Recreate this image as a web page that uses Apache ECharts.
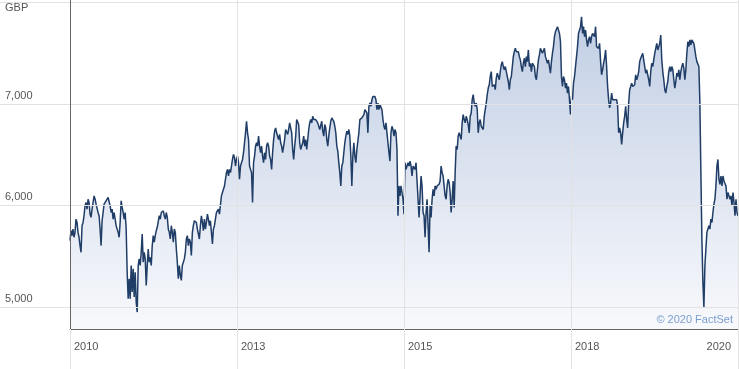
<!DOCTYPE html>
<html>
<head>
<meta charset="utf-8">
<script src="https://cdn.jsdelivr.net/npm/echarts@6/dist/echarts.min.js"></script>
<style>
  html, body { margin: 0; padding: 0; background: #fff; }
  #chart { width: 739px; height: 369px; }
</style>
</head>
<body>
<div id="chart"></div>
<script>
// Index level (GBP), sampled evenly from Oct 2010 to Oct 2020
const seg2010_2012 = [5654,5752,5703,5768,5687,5735,5866,5833,5735,5687,
  5605,5539,5801,5833,5899,5997,6029,5964,6062,6029,
  5915,5883,5964,6029,6095,6062,6013,5997,5931,5899,
  5768,5605,5850,5931,6013,5997,6046,6046,6079,6062,
  5997,5931,5964,5866,5931,5866,5801,5785,5735,5687,
  5833,6046,5981,5931,5866,5931,5768,5343,5082,5278,
  5082,5409,5147,5376,5098,5343,5049,4950,5409,5474,
  5409,5539,5719,5441,5539,5474,5213,5409,5572,5441,
  5490,5409,5605,5703,5638,5703,5752,5785,5801,5899,
  5866,5931,5915,5948,5899,5866,5931,5883,5768,5735,
  5670,5801,5735,5638];
const seg2012_2014 = [5768,5735,5572,5441,5278,5409,5311,5262,5409,5441,
  5474,5539,5670,5703,5605,5670,5638,5507,5735,5801,
  5850,5866,5833,5768,5785,5670,5801,5899,5833,5752,
  5866,5768,5833,5915,5866,5801,5850,5735,5621,5768,
  5801,5866,5931,5948,5964,5915,5931,6095,6128,6144,
  6193,6258,6324,6356,6291,6356,6324,6389,6454,6503,
  6471,6389,6454,6487,6422,6258,6389,6422,6454,6520,
  6618,6716,6830,6716,6650,6389,6356,6324,6029,6422,
  6487,6585,6618,6585,6683,6585,6520,6585,6487,6422,
  6520,6454,6585,6618,6585,6487,6454,6356,6520,6650,
  6732,6765,6716,6683,6650,6700,6618,6585,6520,6503,
  6650,6749,6732,6700,6749];
const seg2014_2015 = [6814,6798,6716,6552,6454,6585,6683,6847,6863,6798,
  6618,6552,6536,6618,6683,6585,6650,6552,6650,6749,
  6814,6847,6814,6879,6847,6863,6847,6863,6814,6798,
  6749,6765,6830,6732,6683,6798,6765,6650,6585,6683,
  6765,6830,6863,6847,6830,6781,6716,6585,6536,6422,
  6324,6193,6389,6422,6520,6618,6683,6732,6700,6749,
  6683,6487,6193,6487,6618,6487,6422,6552,6569,6716,
  6847,6863,6863,6879,6896,6945,6961,6912,6716,6977,
  7010,6977,7043,7075,7092,7075,7043,6945,7010,6945,
  6994,6977,6945,6847,6781,6749,6814,6716,6618,6520,
  6438,6716,6781,6749,6683,6749,6716,6552,5899,6193,
  6095,6193,6128,6062,5915];
const seg2015_2017 = [6422,6356,6389,6422,6389,6438,6389,6291,6389,6405,
  6356,6422,6242,6062,5883,6095,6291,6193,5931,5899,
  5687,5931,6062,5801,5539,5997,5883,6062,6160,6095,
  6193,6160,6193,6193,6209,6242,6389,6324,6291,6193,
  6095,6062,6193,6258,6226,6128,5931,6062,6242,5981,
  6324,6585,6552,6683,6716,6716,6650,6814,6896,6847,
  6814,6879,6847,6798,6716,6879,6912,7043,7092,7010,
  6977,7010,6945,6716,6814,6847,6781,6798,6749,6879,
  6945,7010,7092,7157,7190,7271,7320,7173,7157,7190,
  7141,7255,7304,7271,7239,7320,7386,7418,7369,7337,
  7369,7320,7271,7222,7141,7239,7271,7369,7467,7516,
  7549,7516,7500,7516,7467];
const seg2017_2019 = [7435,7369,7320,7402,7451,7369,7467,7418,7533,7369,
  7402,7320,7402,7418,7369,7271,7239,7337,7435,7484,
  7549,7533,7500,7516,7549,7467,7435,7402,7435,7369,
  7304,7418,7500,7565,7663,7713,7696,7762,7729,7696,
  7614,7271,7173,7271,7239,7157,7206,7108,7173,7043,
  6896,7075,7043,7206,7271,7369,7467,7565,7696,7729,
  7762,7860,7696,7762,7663,7729,7631,7565,7631,7663,
  7598,7663,7696,7713,7663,7762,7565,7582,7549,7598,
  7418,7288,7337,7402,7451,7533,7369,7173,7043,6961,
  7010,7108,7043,7059,7043,7026,7043,6977,6716,6765,
  6716,6601,6716,6814,6879,6977,6847,6765,7010,7141,
  7173,7206,7173,7157,7190];
const seg2019_2020 = [7288,7239,7271,7320,7418,7451,7435,7500,7435,7369,
  7304,7337,7288,7239,7173,7320,7402,7369,7435,7500,
  7516,7598,7533,7565,7598,7680,7435,7320,7239,7141,
  7108,7173,7222,7320,7369,7320,7369,7337,7239,7157,
  7222,7304,7271,7337,7239,7320,7369,7402,7353,7239,
  7337,7500,7614,7565,7631,7582,7631,7647,7598,7533,
  7467,7418,7435,7369,7010,6324,5670,5245,4995,5409,
  5572,5735,5768,5801,5768,5866,5833,5931,6013,6062,
  6193,6389,6454,6258,6209,6291,6193,6291,6242,6258,
  6193,6062,6128,6095,6062,6095,5997,6128,6029,5899,
  6062,5931,5899];

const values = [].concat(seg2010_2012, seg2012_2014, seg2014_2015,
                         seg2015_2017, seg2017_2019, seg2019_2020);

const TICK_LABELS = ['2010', '2013', '2015', '2018', '2020'];
const Y_TICKS = [5000, 6000, 7000, 8000];
const Y_LABELS = [5000, 6000, 7000];
const CURRENCY = 'GBP';
const SOURCE = '\u00a9 2020 FactSet';

const N = values.length;
const xMax = N - 1;
const xInterval = xMax / (TICK_LABELS.length - 1);
const FONT = 'Arial, "Liberation Sans", Helvetica, sans-serif';

const chart = echarts.init(document.getElementById('chart'), null, { renderer: 'canvas' });
chart.setOption({
  animation: false,
  backgroundColor: '#ffffff',
  grid: { left: 70, right: 1, top: 0, bottom: 40, containLabel: false },
  xAxis: {
    type: 'value',
    min: 0,
    max: xMax,
    interval: xInterval,
    z: 5,
    axisLine: { show: true, lineStyle: { color: '#666666', width: 1 } },
    axisTick: { show: true, inside: false, length: 40, lineStyle: { color: '#e2e2e2', width: 1 } },
    splitLine: { show: true, lineStyle: { color: '#e2e2e2', width: 1 } },
    axisLabel: {
      show: true,
      margin: 12,
      align: 'left',
      alignMaxLabel: 'right',
      padding: [0, 7, 0, 4],
      color: '#555555',
      fontSize: 11,
      fontFamily: FONT,
      formatter: function (v) {
        const k = Math.round(v / xInterval);
        return TICK_LABELS[k] || '';
      }
    }
  },
  yAxis: {
    type: 'value',
    min: 4783,
    max: 8025,
    z: 5,
    axisLine: { show: true, lineStyle: { color: '#666666', width: 1 } },
    axisTick: { show: true, inside: false, length: 70, customValues: Y_TICKS,
                lineStyle: { color: '#e2e2e2', width: 1 } },
    splitLine: { show: true, lineStyle: { color: '#e2e2e2', width: 1 } },
    axisLabel: {
      show: true,
      customValues: Y_LABELS,
      margin: 65,
      align: 'left',
      verticalAlign: 'bottom',
      padding: [0, 0, 3, 0],
      color: '#555555',
      fontSize: 11,
      fontFamily: FONT,
      formatter: function (v) { return echarts.format.addCommas(v); }
    }
  },
  series: [{
    type: 'line',
    data: values.map(function (v, i) { return [i, v]; }),
    symbol: 'none',
    smooth: false,
    lineStyle: { color: '#1f3d66', width: 1.5 },
    areaStyle: {
      opacity: 1,
      color: new echarts.graphic.LinearGradient(0, 0, 0, 1, [
        { offset: 0, color: '#c1cee4' },
        { offset: 1, color: '#f8f9fc' }
      ])
    },
    z: 2
  }],
  graphic: [
    { type: 'text', left: 5, top: 2, z: 100,
      style: { text: CURRENCY, fill: '#555555', font: '11px ' + FONT } },
    { type: 'text', right: 6, top: 314, z: 100,
      style: { text: SOURCE, fill: '#7a9ecf', font: '11px ' + FONT } }
  ]
});
</script>
</body>
</html>
